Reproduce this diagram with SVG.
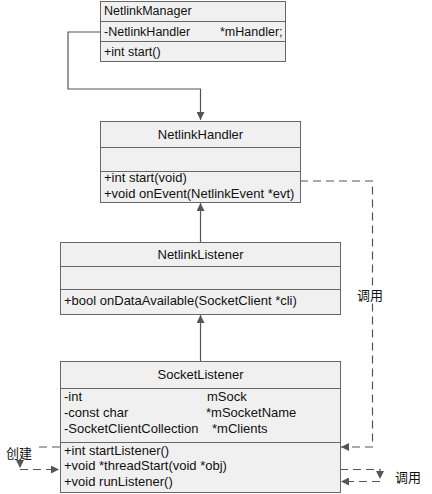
<svg xmlns="http://www.w3.org/2000/svg" width="432" height="494" viewBox="0 0 432 494">
<defs>
<style>
.box{fill:#f0f0f0;stroke:#676767;stroke-width:1}
.sep{stroke:#676767;stroke-width:1}
text{font-family:"Liberation Sans",Arial,"Noto Sans CJK SC",sans-serif;font-size:13px;fill:#111}
.s{font-size:12.5px}
.c{text-anchor:middle}
.ln{fill:none;stroke:#555;stroke-width:1.2}
.dash{fill:none;stroke:#555;stroke-width:1.2;stroke-dasharray:8,5}
</style>
<marker id="ah" viewBox="0 0 10 10" refX="10" refY="5" markerWidth="8" markerHeight="8" markerUnits="userSpaceOnUse" orient="auto">
<path d="M0,0 L10,5 L0,10 z" fill="#555"/>
</marker>
</defs>
<rect width="432" height="494" fill="#fff"/>
<g id="connectors">
<path class="ln" d="M100,32 H68 V89 H200.5 V120" marker-end="url(#ah)"/>
<path class="ln" d="M200.5,242 V203" marker-end="url(#ah)"/>
<path class="ln" d="M200.5,361 V315" marker-end="url(#ah)"/>
<path class="dash" d="M300,181 H372.5 V447 H341" marker-end="url(#ah)"/>
<path class="dash" d="M60,447 H20 V468" marker-end="url(#ah)"/>
<path class="dash" d="M20,469.5 H59" marker-end="url(#ah)"/>
<path class="dash" d="M340,469.5 H380 V479" marker-end="url(#ah)"/>
<path class="dash" d="M380,481.5 H341" marker-end="url(#ah)"/>
<rect x="4" y="444" width="30" height="15" fill="#fff"/>
<text x="6" y="458">创建</text>
<rect x="356" y="287" width="28" height="16" fill="#fff"/>
<text x="357" y="300">调用</text>
<text x="395" y="482">调用</text>
</g>
<g id="NetlinkManager">
<rect class="box" x="100.5" y="1.5" width="185" height="60"/>
<line class="sep" x1="100.5" y1="21.5" x2="285.5" y2="21.5"/>
<line class="sep" x1="100.5" y1="41.5" x2="285.5" y2="41.5"/>
<text class="s" x="104" y="15">NetlinkManager</text>
<text class="s" x="104" y="36">-NetlinkHandler</text>
<text class="s" x="220" y="36">*mHandler;</text>
<text class="s" x="104" y="56">+int start()</text>
</g>
<g id="NetlinkHandler">
<rect class="box" x="100.5" y="121.5" width="200" height="81"/>
<line class="sep" x1="100.5" y1="147.5" x2="300.5" y2="147.5"/>
<line class="sep" x1="100.5" y1="171.5" x2="300.5" y2="171.5"/>
<text class="c" x="200.5" y="139">NetlinkHandler</text>
<text x="104" y="182">+int start(void)</text>
<text x="104" y="198">+void onEvent(NetlinkEvent *evt)</text>
</g>
<g id="NetlinkListener">
<rect class="box" x="60.5" y="242.5" width="280" height="72"/>
<line class="sep" x1="60.5" y1="266.5" x2="340.5" y2="266.5"/>
<line class="sep" x1="60.5" y1="289.5" x2="340.5" y2="289.5"/>
<text class="c" x="200.5" y="259">NetlinkListener</text>
<text x="64" y="305">+bool onDataAvailable(SocketClient *cli)</text>
</g>
<g id="SocketListener">
<rect class="box" x="60.5" y="361.5" width="280" height="131"/>
<line class="sep" x1="60.5" y1="388.5" x2="340.5" y2="388.5"/>
<line class="sep" x1="60.5" y1="442.5" x2="340.5" y2="442.5"/>
<text class="c" x="200.5" y="379">SocketListener</text>
<text x="64" y="401">-int</text>
<text x="207" y="401">mSock</text>
<text x="64" y="417">-const char</text>
<text x="206" y="417">*mSocketName</text>
<text x="64" y="433">-SocketClientCollection</text>
<text x="212" y="433">*mClients</text>
<text x="64" y="455">+int startListener()</text>
<text x="64" y="470">+void *threadStart(void *obj)</text>
<text x="64" y="486">+void runListener()</text>
</g>
</svg>
